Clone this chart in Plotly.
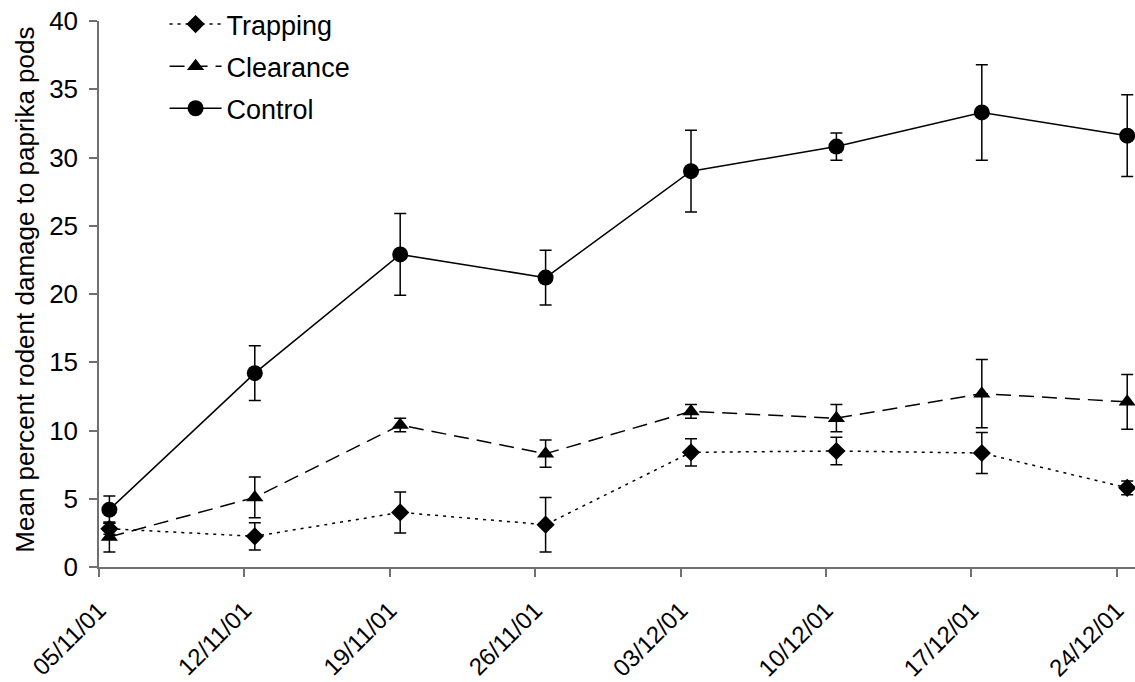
import plotly.graph_objects as go

dates = ["2001-11-05", "2001-11-12", "2001-11-19", "2001-11-26",
         "2001-12-03", "2001-12-10", "2001-12-17", "2001-12-24"]
tick_labels = ["05/11/01", "12/11/01", "19/11/01", "26/11/01",
               "03/12/01", "10/12/01", "17/12/01", "24/12/01"]

trapping = [2.8, 2.25, 4.0, 3.1, 8.4, 8.5, 8.35, 5.8]
trapping_err = [0.4, 1.0, 1.5, 2.0, 1.0, 1.0, 1.5, 0.5]

clearance = [2.2, 5.1, 10.4, 8.3, 11.4, 10.9, 12.7, 12.1]
clearance_err = [1.1, 1.5, 0.5, 1.0, 0.5, 1.0, 2.5, 2.0]

control = [4.2, 14.2, 22.9, 21.2, 29.0, 30.8, 33.3, 31.6]
control_err = [1.0, 2.0, 3.0, 2.0, 3.0, 1.0, 3.5, 3.0]

y_title = "Mean percent rodent damage to paprika pods"

# observations plotted at mid-day of each sampling date
x_pts = [d + " 12:00" for d in dates]

FONT = "Arial, Liberation Sans, sans-serif"

series = [
    ("Trapping", trapping, trapping_err, "diamond", 14, "3px,5px", "g1"),
    ("Clearance", clearance, clearance_err, "triangle-up", 15, "15px,8px", "g2"),
    ("Control", control, control_err, "circle", 16, "solid", "g3"),
]

fig = go.Figure()
for name, vals, errs, sym, sz, dash, grp in series:
    fig.add_trace(go.Scatter(
        x=x_pts, y=vals, name=name, mode="lines+markers",
        legendgroup=grp,
        line=dict(color="black", width=1.5, dash=dash),
        marker=dict(symbol=sym, size=sz, color="black"),
        error_y=dict(type="data", array=errs, visible=True,
                     color="black", thickness=1.5, width=6),
        cliponaxis=False,
    ))

fig.update_layout(
    width=1135, height=682,
    margin=dict(l=99, r=0, t=21, b=115, autoexpand=False),
    paper_bgcolor="white", plot_bgcolor="white",
    font=dict(family=FONT, size=25, color="black"),
    showlegend=True,
    legend=dict(
        xref="container", yref="container",
        x=0.145, y=1.026, xanchor="left", yanchor="top",
        bgcolor="rgba(0,0,0,0)", borderwidth=0,
        traceorder="grouped", tracegroupgap=4,
        itemwidth=52,
        font=dict(family=FONT, size=27, color="black"),
    ),
    annotations=[dict(
        text=y_title, textangle=-90,
        xref="paper", yref="paper", x=-0.0714, y=0.508,
        xanchor="center", yanchor="middle", showarrow=False,
        font=dict(family=FONT, size=26, color="black"),
    )],
)

fig.update_xaxes(
    type="date", automargin=False,
    range=["2001-11-05", "2001-12-24 21:00"],
    tickvals=dates, ticktext=tick_labels,
    tickangle=-45,
    ticks="outside", ticklen=8, tickwidth=1.5, tickcolor="#707070",
    showline=True, linecolor="#707070", linewidth=1.5,
    showgrid=False, zeroline=False,
    ticklabelstandoff=10,
    tickfont=dict(family=FONT, size=24, color="black"),
)

fig.update_yaxes(
    automargin=False,
    range=[0, 40], dtick=5, tick0=0,
    ticks="outside", ticklen=8, tickwidth=1.5, tickcolor="#707070",
    showline=True, linecolor="#707070", linewidth=1.5,
    showgrid=False, zeroline=False,
    ticklabelstandoff=6,
    tickfont=dict(family=FONT, size=26, color="black"),
)

fig.write_html("out.html")
